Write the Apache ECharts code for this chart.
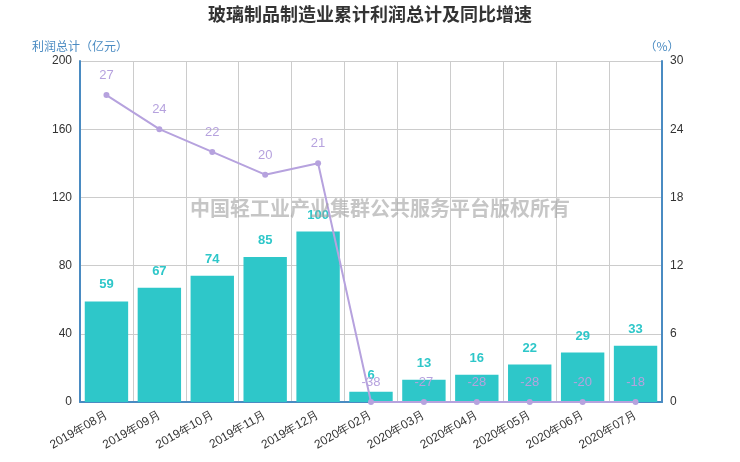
<!DOCTYPE html>
<html>
<head>
<meta charset="utf-8">
<script src="https://cdn.jsdelivr.net/npm/echarts@6/dist/echarts.min.js"></script>
<style>
html,body{margin:0;padding:0;background:#fff;}
#main{width:740px;height:462px;}
</style>
</head>
<body>
<div id="main"></div>
<script>
var months = ['2019年08月','2019年09月','2019年10月','2019年11月','2019年12月','2020年02月','2020年03月','2020年04月','2020年05月','2020年06月','2020年07月'];
var profit = [59, 67, 74, 85, 100, 6, 13, 16, 22, 29, 33];
var growth = [27, 24, 22, 20, 21, -38, -27, -28, -28, -20, -18];
var leftTicks = [0, 200, 40];
var rightTicks = [0, 30, 6];

var chart = echarts.init(document.getElementById('main'));

// 增速小于0时点画在0轴上，标签仍显示原值
var growthPoints = growth.map(function(v){ return v < 0 ? 0 : v; });

chart.setOption({
	textStyle:{fontFamily:'"Noto Sans CJK SC", sans-serif'},
	title:{
		text:'玻璃制品制造业累计利润总计及同比增速',
		left:'center',
		top:0,
		textStyle:{fontSize:18,fontWeight:'bold',color:'#333'}
	},
	graphic:[{
		type:'text',
		left:190,
		top:198,
		z:100,
		style:{
			text:'中国轻工业产业集群公共服务平台版权所有',
			font:'bold 20px "Noto Sans CJK SC", sans-serif',
			fill:'rgba(160,160,160,0.6)'
		}
	}],
	grid:{left:80,right:78,top:61,bottom:60},
	xAxis:[{
		type:'category',
		data:months,
		axisLine:{lineStyle:{color:'#4a8bc2',width:2}},
		axisTick:{lineStyle:{color:'#333'}},
		axisLabel:{rotate:30,color:'#333',fontSize:12,fontFamily:'Arial, sans-serif',margin:12},
		splitLine:{show:true,lineStyle:{color:'#ccc'}}
	}],
	yAxis:[{
		type:'value',
		name:'利润总计（亿元）',
		nameGap:9,
		nameTextStyle:{color:'#4a8bc2',fontSize:12},
		min:leftTicks[0],max:leftTicks[1],interval:leftTicks[2],
		axisLine:{show:true,lineStyle:{color:'#4a8bc2',width:2}},
		axisTick:{show:false},
		axisLabel:{color:'#333',fontSize:12,fontFamily:'Arial, sans-serif'},
		splitLine:{lineStyle:{color:'#ccc'}}
	},{
		type:'value',
		name:'（%）',
		nameGap:9,
		nameTextStyle:{color:'#4a8bc2',fontSize:12},
		min:rightTicks[0],max:rightTicks[1],interval:rightTicks[2],
		axisLine:{show:true,lineStyle:{color:'#4a8bc2',width:2}},
		axisTick:{show:false},
		axisLabel:{color:'#333',fontSize:12,fontFamily:'Arial, sans-serif'},
		splitLine:{show:false}
	}],
	series:[{
		name:'利润总计',
		type:'bar',
		data:profit,
		barCategoryGap:'18%',
		itemStyle:{color:'#2ec7c9'},
		label:{
			show:true,position:'top',distance:10,
			color:'#2ec7c9',fontWeight:'bold',fontSize:13,fontFamily:'Arial, sans-serif'
		}
	},{
		name:'同比增速',
		type:'line',
		yAxisIndex:1,
		data:growthPoints,
		symbol:'circle',
		symbolSize:6,
		z:5,
		itemStyle:{color:'#b6a2de'},
		lineStyle:{color:'#b6a2de',width:2},
		label:{
			show:true,position:'top',distance:10,
			color:'#b6a2de',fontSize:13,fontFamily:'Arial, sans-serif',
			formatter:function(p){ return growth[p.dataIndex]; }
		}
	}]
});
</script>
</body>
</html>
